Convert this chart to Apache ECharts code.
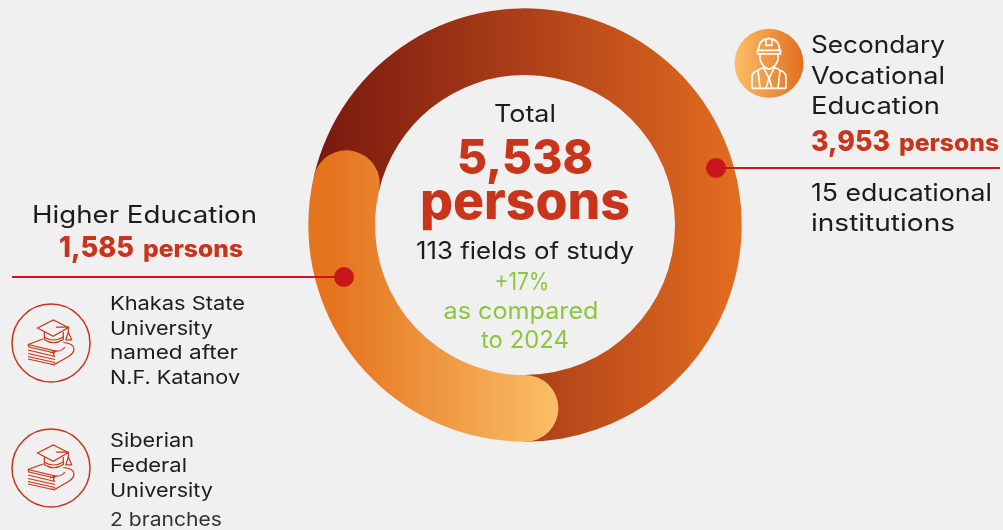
<!DOCTYPE html>
<html><head><meta charset="utf-8">
<style>html,body{margin:0;padding:0;background:#f0f0f0}#c{width:1003px;height:530px}</style>
<script src="https://cdn.jsdelivr.net/npm/echarts@6/dist/echarts.min.js"></script>
</head><body><div id="c"></div>
<script>
const segments = ['Higher Education', 'Secondary Vocational Education'];
const persons = [1585, 3953];
const total = 5538;
const totalLines = ['Total', '5,538', 'persons', '113 fields of study', '+17%', 'as compared', 'to 2024'];
const svoLines = ['Secondary', 'Vocational', 'Education', '3,953', 'persons', '15 educational', 'institutions'];
const heLines = ['Higher Education', '1,585', 'persons'];
const uni1 = ['Khakas State', 'University', 'named after', 'N.F. Katanov'];
const uni2 = ['Siberian', 'Federal', 'University', '2 branches'];

const FONT = 'Inter';
const INK = '#1c1c1c', RED = '#c8351b', GREEN = '#8cc63f', LINE = '#c8161c';
const ctx = document.createElement('canvas').getContext('2d');
function T(text, x, y, size, color, w, align, weight) {
  weight = weight || 400; align = align || 'left';
  ctx.font = weight + ' ' + size + 'px ' + FONT;
  const sx = w ? w / ctx.measureText(text).width : 1;
  return {type: 'text', x, y, scaleX: sx, z: 50, silent: true,
    style: {text, x: 0, y: 0, fill: color, align, verticalAlign: 'middle',
      font: weight + ' ' + size + 'px ' + FONT}};
}
let shapeId = 0;
function P(d, st) {
  const name = 'iconPath' + (shapeId++);
  echarts.graphic.registerShape(name, echarts.graphic.extendPath(d, {}));
  return {type: name, style: st};
}
function capIcon(cx, cy) {
  const st = {fill: 'none', stroke: RED, lineWidth: 1.2};
  const p = d => P(d, st);
  return {type: 'group', x: cx, y: cy, z: 50, silent: true, children: [
    {type: 'circle', shape: {cx: 0, cy: 0, r: 39}, style: {fill: 'none', stroke: RED, lineWidth: 1.5}},
    p('M-13.5 -15 L2.3 -23 L17.3 -15.5 L2.3 -6.7 Z'),
    p('M-6.7 -11 L-6.7 -3.5 Q2.3 3 12.3 -3.5 L12.3 -11'),
    p('M-6.7 -6 Q2.3 0 12.3 -6'),
    p('M5 -15.8 L17.3 -15.8 L17.3 -11 M17.3 -11 L14.8 -3.2 L20.7 -3.2 Z'),
    p('M-23 1.5 L-8 -4 M-23 1.5 L4 8 L-1 10 M-23 1.5 L-22 4 L4 10 M-23 7 L4 13.5 M-23 10.5 L4 16.5 M-23 13.5 L4 19.5 M-23 16 L4 22 L-23 16'),
    p('M12.3 -0.5 Q23 0.5 23 6 Q23 11 15 15 L7 19.5 Q4 22 0 21'),
    p('M4 8 Q10 9 14 4 M4 8 Q1 12 4 13.5')
  ]};
}
function workerIcon(cx, cy) {
  const st = {fill: 'none', stroke: '#fff', lineWidth: 1.7};
  const p = d => P(d, st);
  return {type: 'group', x: cx, y: cy, z: 50, silent: true, children: [
    {type: 'circle', shape: {cx: 0, cy: 0, r: 34.5}, style: {
      fill: new echarts.graphic.LinearGradient(0, 0, 1, 0, [
        {offset: 0, color: '#fbbf68'}, {offset: 1, color: '#e36d1f'}])}},
    p('M-10.5 -13 Q-10.5 -24 0 -25 Q10.5 -24 10.5 -13'),
    p('M-3 -25 L-3 -18 L3 -18 L3 -25'),
    p('M-11.5 -13 L11.5 -13 L11.5 -9.5 L-11.5 -9.5 Z'),
    p('M-9 -9.5 L-9 -4 Q-7 4 0 6 Q7 4 9 -4 L9 -9.5'),
    p('M-17 25 L-17 14 Q-17 9 -11 7 L-5.5 4 M17 25 L17 14 Q17 9 11 7 L5.5 4 M-17 25 L17 25'),
    p('M-5.5 4 L0 15 L5.5 4 M0 15 L-3 25 M0 15 L3 25 M-11 7 L-9 25 M11 7 L9 25')
  ]};
}

const chart = echarts.init(document.getElementById('c'), null, {renderer: 'canvas'});
const darkGrad = new echarts.graphic.LinearGradient(315, 0, 741, 0, [
  {offset: 0, color: '#78180e'}, {offset: 0.5, color: '#ae4019'}, {offset: 1, color: '#e36d1f'}], true);
const lightGrad = new echarts.graphic.LinearGradient(335, 0, 558, 0, [
  {offset: 0, color: '#e5741f'}, {offset: 1, color: '#fbbf68'}], true);

chart.setOption({
  backgroundColor: '#f0f0f0',
  animation: false,
  polar: {center: [525, 225], radius: [150, 216.7]},
  angleAxis: {type: 'value', min: 0, max: total, startAngle: 270, clockwise: true, show: false},
  radiusAxis: {type: 'category', data: [segments[0]], show: false},
  series: [
    {type: 'pie', center: [525, 225], radius: [150, 216.7], startAngle: 270, clockwise: true,
     label: {show: false}, labelLine: {show: false}, silent: true, z: 1,
     data: [
       {name: segments[0], value: persons[0], itemStyle: {color: 'rgba(0,0,0,0)'}},
       {name: segments[1], value: persons[1], itemStyle: {color: darkGrad}}
     ]},
    {type: 'bar', coordinateSystem: 'polar', roundCap: true, barWidth: '100%', z: 2, silent: true,
     itemStyle: {color: lightGrad}, data: [persons[0]]}
  ],
  graphic: {elements: [
    {type: 'line', z: 40, silent: true, shape: {x1: 716, y1: 168, x2: 1000, y2: 168}, style: {stroke: LINE, lineWidth: 2}},
    {type: 'line', z: 40, silent: true, shape: {x1: 12, y1: 277, x2: 344, y2: 277}, style: {stroke: LINE, lineWidth: 2}},
    {type: 'circle', z: 41, silent: true, shape: {cx: 716, cy: 168, r: 10}, style: {fill: '#c8161c'}},
    {type: 'circle', z: 41, silent: true, shape: {cx: 344, cy: 277, r: 10}, style: {fill: '#c8161c'}},
    workerIcon(769, 63.3),
    capIcon(51, 343),
    capIcon(51, 468),
    T(totalLines[0], 525, 115, 24, INK, 62, 'center'),
    T(totalLines[1], 525, 160, 48, RED, 136, 'center', 800),
    T(totalLines[2], 525, 203, 52, RED, 210, 'center', 800),
    T(totalLines[3], 525, 252, 24, INK, 218, 'center'),
    T(totalLines[4], 522, 283, 24, GREEN, 55, 'center'),
    T(totalLines[5], 521, 312, 24, GREEN, 155, 'center'),
    T(totalLines[6], 525, 341, 24, GREEN, 88, 'center'),
    T(svoLines[0], 811, 46, 24, INK, 134),
    T(svoLines[1], 811, 77, 24, INK, 134),
    T(svoLines[2], 811, 107, 24, INK, 129),
    T(svoLines[3], 811, 142, 29, RED, 79, 'left', 800),
    T(svoLines[4], 899, 144, 24, RED, 100, 'left', 800),
    T(svoLines[5], 811, 194, 24, INK, 181),
    T(svoLines[6], 811, 224, 24, INK, 144),
    T(heLines[0], 32, 216, 24, INK, 225),
    T(heLines[1], 59, 248, 29, RED, 75, 'left', 800),
    T(heLines[2], 143, 250, 24, RED, 100, 'left', 800),
    T(uni1[0], 110, 304, 19, INK, 135),
    T(uni1[1], 110, 329, 19, INK, 103),
    T(uni1[2], 110, 353, 19, INK, 128),
    T(uni1[3], 110, 378, 19, INK, 130),
    T(uni2[0], 110, 441, 19, INK, 84),
    T(uni2[1], 110, 466, 19, INK, 77),
    T(uni2[2], 110, 491, 19, INK, 103),
    T(uni2[3], 110, 520, 19, '#333', 112)
  ]}
});
</script></body></html>
